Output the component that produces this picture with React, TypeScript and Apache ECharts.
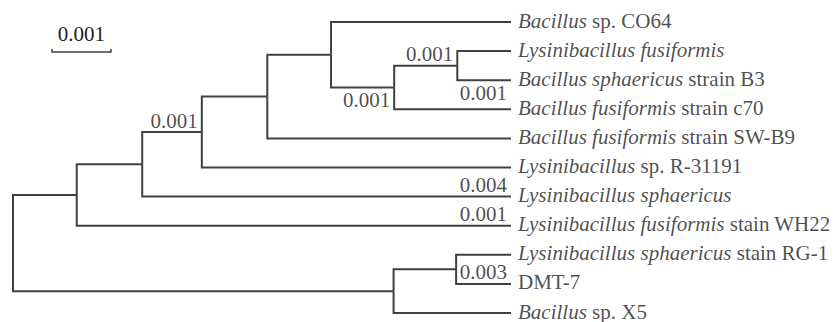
import React, { useEffect, useRef } from "react";
import * as echarts from "echarts";

// Leaf taxa (top to bottom): italic part + roman part
const leafItalic = [
  "Bacillus",
  "Lysinibacillus fusiformis",
  "Bacillus sphaericus",
  "Bacillus fusiformis",
  "Bacillus fusiformis",
  "Lysinibacillus",
  "Lysinibacillus sphaericus",
  "Lysinibacillus fusiformis",
  "Lysinibacillus sphaericus",
  "",
  "Bacillus",
];
const leafRoman = [
  " sp. CO64",
  "",
  " strain B3",
  " strain c70",
  " strain SW-B9",
  " sp. R-31191",
  "",
  " stain WH22",
  " stain RG-1",
  "DMT-7",
  " sp. X5",
];
const leafDepth = 0.00844;

// Internal nodes n0..n9: depth from root and their two children
const nodeDepths = [0, 0.00108, 0.00219, 0.0032, 0.00431, 0.00539, 0.00646, 0.00753, 0.00645, 0.00751];
const nodeChildren = [
  ["n1", "n8"],
  ["n2", "L7"],
  ["n3", "L6"],
  ["n4", "L5"],
  ["n5", "L4"],
  ["L0", "n6"],
  ["n7", "L3"],
  ["L1", "L2"],
  ["n9", "L10"],
  ["L8", "L9"],
];

// Branch support / length labels
const branchLabelTargets = ["n3", "n6", "n7", "L2", "L6", "L7", "L9"];
const branchLabelTexts = ["0.001", "0.001", "0.001", "0.001", "0.004", "0.001", "0.003"];
const branchLabelSides = ["above", "below", "above", "below", "above", "above", "above"];

// Scale bar
const scaleBarStart = 0.00066;
const scaleBarLength = 0.001;
const scaleBarRow = 1.03;
const scaleBarText = "0.001";

const FONT = "'Liberation Serif', 'Times New Roman', serif";
const TEXT_COLOR = "#1e1e1e";
const LINE_COLOR = "#404040";

function nodePos(id: string): [number, number] {
  if (id[0] === "L") {
    const i = parseInt(id.slice(1), 10);
    return [leafDepth, i];
  }
  const i = parseInt(id.slice(1), 10);
  const ys = nodeChildren[i].map((c) => nodePos(c)[1]);
  return [nodeDepths[i], (ys[0] + ys[1]) / 2];
}

export default function App() {
  const ref = useRef<HTMLDivElement>(null);
  useEffect(() => {
    if (!ref.current) return;
    const chart = echarts.init(ref.current, undefined, { renderer: "svg" });

    const edges: number[][] = [];
    nodeChildren.forEach((children, i) => {
      const p = nodePos("n" + i);
      children.forEach((c) => {
        const q = nodePos(c);
        edges.push([p[0], p[1], q[0], q[1]]);
      });
    });

    const leafData = leafItalic.map((_, i) => nodePos("L" + i));
    const leafLabel = (i: number) => {
      let s = "";
      if (leafItalic[i]) s += "{i|" + leafItalic[i] + "}";
      if (leafRoman[i]) s += "{r|" + leafRoman[i] + "}";
      return s;
    };

    const branchData = branchLabelTargets.map((t, k) => {
      const p = nodePos(t);
      const above = branchLabelSides[k] === "above";
      return {
        value: p,
        label: {
          show: true,
          formatter: branchLabelTexts[k],
          position: above ? [-4, -1] : [-4, 2],
          align: "right",
          verticalAlign: above ? "bottom" : "top",
        },
      };
    });

    chart.setOption({
      animation: false,
      grid: { left: 13, right: 326, top: 22, bottom: 9 },
      xAxis: { type: "value", min: 0, max: leafDepth, show: false },
      yAxis: { type: "value", min: 0, max: 10, inverse: true, show: false },
      series: [
        {
          type: "custom",
          silent: true,
          data: edges,
          renderItem: (params: any, api: any) => {
            const a = api.coord([api.value(0), api.value(1)]);
            const b = api.coord([api.value(0), api.value(3)]);
            const c = api.coord([api.value(2), api.value(3)]);
            return {
              type: "polyline",
              shape: { points: [a, b, c] },
              style: { stroke: LINE_COLOR, lineWidth: 2, fill: "none", lineJoin: "miter", lineCap: "butt" },
            };
          },
        },
        {
          type: "custom",
          silent: true,
          data: [[scaleBarStart, scaleBarRow, scaleBarStart + scaleBarLength]],
          renderItem: (params: any, api: any) => {
            const a = api.coord([api.value(0), api.value(1)]);
            const b = api.coord([api.value(2), api.value(1)]);
            return {
              type: "group",
              children: [
                {
                  type: "polyline",
                  shape: { points: [[a[0], a[1] - 3], a, b, [b[0], b[1] - 3]] },
                  style: { stroke: LINE_COLOR, lineWidth: 1.5, fill: "none" },
                },
                {
                  type: "text",
                  x: (a[0] + b[0]) / 2,
                  y: a[1] - 7,
                  style: {
                    text: scaleBarText,
                    fontFamily: FONT,
                    fontSize: 21,
                    fill: TEXT_COLOR,
                    align: "center",
                    verticalAlign: "bottom",
                  },
                },
              ],
            };
          },
        },
        {
          type: "scatter",
          silent: true,
          symbolSize: 0,
          data: leafData,
          label: {
            show: true,
            position: "right",
            distance: 7,
            offset: [0, -1.5],
            formatter: (p: any) => leafLabel(p.dataIndex),
            rich: {
              i: { fontFamily: FONT, fontSize: 21, fontStyle: "italic", color: TEXT_COLOR, lineHeight: 17 },
              r: { fontFamily: FONT, fontSize: 21, color: TEXT_COLOR, lineHeight: 17 },
            },
          },
        },
        {
          type: "scatter",
          silent: true,
          symbolSize: 0,
          data: branchData,
          label: {
            show: true,
            fontFamily: FONT,
            fontSize: 21,
            color: TEXT_COLOR,
          },
        },
      ],
    });
    return () => chart.dispose();
  }, []);
  return (
    <div
      ref={ref}
      style={{ position: "absolute", left: 0, top: 0, width: 837, height: 322, background: "#fff" }}
    />
  );
}
